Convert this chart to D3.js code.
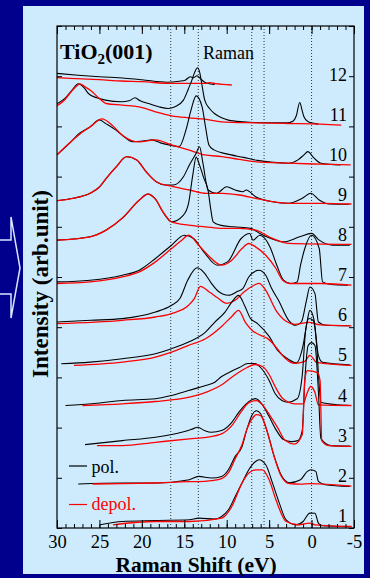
<!DOCTYPE html>
<html><head><meta charset="utf-8">
<script src="https://cdn.jsdelivr.net/npm/d3@7"></script>
<style>
body{margin:0;background:#00008c;} svg{display:block}
svg text{font-family:"Liberation Serif","Times New Roman",Times,"DejaVu Serif",serif;}
</style>
</head><body><svg id="c" width="370" height="578"></svg>
<script>
// ---------- data ----------
const xTickValues = [30,25,20,15,10,5,0,-5];
const xTickLabels = ["30","25","20","15","10","5","0","-5"];
const refLines = [16.6,13.35,7.05,5.6,0];
const spectrumLabels = ["1","2","3","4","5","6","7","8","9","10","11","12"];
const spacing = 4.01;   // vertical offset between spectra (arb. units)

const pol1 = [[24.9,0.2],[22.3,0.53],[18.4,0.63],[14.4,0.7],[13.3,0.87],[11.4,0.77],[10.6,1.03],[9.8,1.7],[9,3.03],[8.2,4.37],[7.4,5.7],[6.6,6.53],[6.2,6.7],[5.4,6.2],[4.6,4.37],[3.8,2.37],[3,0.7],[1.8,0.2],[1,0.53],[0.2,1.37],[-0.4,1.35],[-0.8,0.37],[-1.2,0.1],[-4.7,0.03]];
const depol1 = [[23.4,0.2],[18.4,0.53],[14.4,0.53],[10.6,0.87],[9.4,2.03],[8.2,4.37],[7.4,5.37],[6.6,5.7],[5.8,5.7],[5,4.7],[4.2,2.7],[3,0.53],[1.5,0.2],[0.2,0.37],[-0.4,0.2],[-4.7,0.03]];
const pol2 = [[27.5,0.27],[22.3,0.37],[18.4,0.37],[14.4,0.7],[13.3,1.03],[11.8,0.87],[10.6,1.03],[9.8,1.7],[9,3.03],[8.2,4.0],[7.6,5.8],[7,7.2],[6.5,7.6],[6,7.3],[5.3,5.7],[4.4,3.0],[3.6,1.2],[2.6,0.4],[1.3,0.7],[0.5,1.53],[0.1,1.7],[-0.5,1.53],[-0.8,0.53],[-1.6,0.2],[-4.5,0.03]];
const depol2 = [[25.8,0.27],[22.3,0.3],[18.4,0.37],[14.4,0.5],[13.3,0.5],[11.8,0.6],[10.6,0.8],[9.8,1.4],[9,2.8],[8.2,4.2],[7.6,5.8],[7,6.8],[6.5,7.2],[6,7.1],[5.3,5.7],[4.4,3.0],[3.6,1.1],[2.6,0.3],[1.3,0.25],[0.2,0.3],[-4.7,0.05]];
const pol3 = [[26.7,0.2],[22.3,0.6],[18.4,0.93],[15.3,1.43],[14.2,1.7],[13.4,1.93],[12.6,1.6],[11.8,1.43],[10.6,1.6],[9.4,2.43],[8.6,3.4],[7.8,4.2],[7,4.7],[6.6,4.8],[5.8,4.2],[5,3.0],[4.2,1.7],[3.3,0.7],[2.4,0.5],[1.6,0.6],[1.1,1.6],[0.8,6.6],[0.4,10.1],[0,10.4],[-0.4,10.1],[-0.8,5.6],[-1.1,0.8],[-2.3,0.1],[-4.5,0.05]];
const depol3 = [[25.3,0.1],[22.3,0.1],[18.4,0.43],[14.4,0.77],[12.4,0.93],[10.6,1.27],[9.4,2.1],[8.2,3.6],[7.4,4.4],[6.5,4.6],[5.7,4.1],[4.9,3.1],[4,1.9],[3.1,0.6],[2,0.25],[1.1,1.2],[0.8,6.6],[0.5,7.6],[-0.7,7.4],[-1,6.6],[-1.2,0.6],[-2,0.1],[-4.7,0.03]];
const pol4 = [[29,0.1],[25.6,0.3],[22.3,0.6],[18.4,0.77],[16.5,1.1],[14.5,1.6],[12.5,2.1],[11.4,2.43],[10.6,3.0],[9.5,3.5],[8.5,3.9],[7.5,4.3],[6.7,4.3],[5.9,3.8],[5,2.6],[4.3,1.3],[3.5,0.6],[2.8,0.43],[1.7,0.77],[1.1,3.1],[0.7,7.6],[0.3,8.8],[-0.2,8.6],[-0.6,6.1],[-0.9,2.1],[-1.1,0.43],[-3.1,0.17],[-4.5,0.1]];
const depol4 = [[27,0.1],[22.3,0.27],[18.4,0.5],[14.4,0.93],[12.4,1.43],[10.4,2.27],[9.6,2.8],[8.6,3.4],[7.6,3.9],[6.7,4.2],[5.8,4.0],[5,3.2],[4.3,2.0],[3.4,0.8],[2,0.27],[1,0.27],[0.5,1.4],[0.1,2.0],[-0.4,1.4],[-0.8,0.17],[-4.7,0.1]];
const pol5 = [[29.5,0.27],[26.1,0.43],[22.3,0.77],[18.4,1.27],[16.5,1.77],[14.5,2.43],[12.5,3.43],[11.4,4.43],[10.2,5.43],[9.4,6.43],[8.6,7.1],[7.9,6.1],[7.2,4.8],[6.4,4.3],[5,3.0],[4,1.6],[2.8,0.75],[1.8,0.35],[1,2.1],[0.5,4.6],[0.2,5.6],[-0.3,4.6],[-0.8,1.1],[-1.3,0.4],[-4.5,0.15]];
const depol5 = [[28,0.1],[22.3,0.43],[18.4,0.93],[16.5,1.43],[14.5,2.1],[12.5,2.77],[10.6,4.0],[9.4,5.0],[8.6,5.6],[7.8,4.4],[7,3.6],[6,3.1],[5.2,2.8],[4.2,1.93],[3.2,0.9],[2,0.3],[0.8,0.5],[0.2,1.1],[-0.6,0.4],[-4.7,0.1]];
const pol6 = [[30,0.43],[26,0.6],[22.3,0.77],[18.4,1.43],[16.5,2.1],[15.5,2.8],[14.6,4.6],[13.5,5.85],[12.7,5.4],[11.8,4.3],[11,3.5],[9.8,3.1],[8.7,3.5],[8.1,3.77],[7.4,4.93],[6.2,5.6],[5.4,5.1],[4.7,3.77],[3.9,2.6],[2.7,0.6],[1.9,0.1],[1.2,0.43],[0.6,2.6],[0.2,3.93],[-0.4,3.27],[-0.8,0.43],[-1.7,0.1],[-4.5,0.05]];
const depol6 = [[30,0.27],[22.3,0.6],[18.4,0.93],[16.5,1.27],[14.5,2.1],[13.8,2.8],[13.1,4.0],[12,3.4],[11,2.8],[10,2.3],[9,2.6],[8,3.4],[7,4.0],[6.2,4.3],[5.4,3.6],[4.2,1.6],[3,0.5],[2,0.2],[0.3,0.4],[-1,0.15],[-4.7,0.05]];
const pol7 = [[30,0.43],[26.1,0.6],[22.3,1.1],[20.3,1.6],[18.4,2.77],[16.5,4.1],[15,5.1],[13.9,4.77],[12.7,3.43],[11.1,2.1],[9.9,2.43],[8.3,4.77],[7.3,5.27],[6.9,4.6],[6.1,5.1],[4.9,3.93],[4.1,2.1],[3.3,0.6],[2.5,0.27],[1.7,0.43],[1.3,2.1],[0.8,3.77],[0,5.1],[-0.9,3.77],[-1.3,0.43],[-2.3,0.17],[-4.3,0.1]];
const depol7 = [[30,0.27],[26.1,0.43],[22.3,0.93],[20.3,1.43],[18.4,2.43],[16.5,3.77],[15.3,4.6],[14.5,5.1],[13.3,4.1],[12.2,3.1],[10.6,2.1],[9.4,2.6],[8.2,3.77],[7.4,4.27],[6.6,3.93],[5.4,3.1],[4.2,1.77],[3.4,0.6],[2.6,0.27],[-1.2,0.27],[-4.7,0.1]];
const pol8 = [[30,0.6],[26.1,0.93],[24.2,1.6],[22.3,2.8],[20.3,4.6],[19.3,5.2],[18.4,4.7],[17.5,3.4],[16.5,2.43],[15.1,3.1],[14.5,4.27],[14.0,7.1],[13.6,8.9],[13.2,8.1],[12.7,6.8],[12.2,5.6],[11.9,3.8],[11.6,2.43],[10.8,2.1],[9.2,1.93],[7.2,1.77],[6.1,1.27],[5.3,0.93],[3.3,0.43],[1.4,0.93],[0.0,1.27],[-0.9,0.6],[-2.5,0.1],[-4.5,0.1]];
const depol8 = [[30,0.6],[26.1,0.93],[24.2,1.6],[22.3,2.8],[20.3,4.6],[19.3,5.2],[18.4,4.7],[17.5,3.4],[16.5,2.43],[14.5,2.1],[12.5,1.93],[10.5,1.77],[8.5,1.77],[6.6,1.6],[4.6,0.77],[2.7,0.27],[-4.7,0.17]];
const pol9 = [[30,0.53],[28.1,0.77],[26.1,1.27],[25,1.9],[24.2,2.77],[23,3.93],[21.8,4.93],[20.6,4.6],[19.5,3.43],[18.3,2.43],[17.2,2.1],[16.3,2.1],[15.1,2.93],[14.4,4.1],[13.6,5.27],[13.2,5.93],[12.8,4.27],[12.2,1.6],[11.2,1.27],[10,1.93],[9,1.6],[8.1,1.43],[7.7,1.6],[6.6,0.93],[4.6,0.43],[2.7,0.27],[1.1,0.77],[0.1,1.27],[-0.9,0.6],[-2.1,0.2],[-4.4,0.17]];
const depol9 = [[30,0.53],[28.1,0.77],[26.1,1.27],[25,1.9],[24.2,2.77],[23,3.93],[21.8,4.93],[20.6,4.6],[19.5,3.43],[18.3,2.43],[16.3,1.93],[14.4,1.6],[12.4,1.27],[10.5,1.27],[8.5,1.1],[6.6,0.77],[4.6,0.43],[2.7,0.27],[-1.2,0.27],[-4.7,0.2]];
const pol10 = [[30,1.1],[28.6,2.2],[27.3,3.3],[26.1,3.9],[25,4.6],[24.2,4.2],[23.1,3.6],[22.3,3.07],[21.1,2.43],[19.8,2.5],[18.8,2.6],[17.8,2.3],[16.8,2.1],[15.6,1.93],[14.8,3.6],[14.2,5.6],[13.6,7.0],[12.9,5.9],[12.5,3.9],[12.1,2.1],[11.5,1.6],[10,1.2],[8,0.85],[6.4,0.55],[4.5,0.35],[2.7,0.27],[1.6,0.6],[0.9,1.1],[0.45,1.43],[-0.3,0.77],[-1.1,0.27],[-3.4,0.1]];
const depol10 = [[30,1.1],[28.6,2.23],[27.3,3.2],[26.1,3.9],[24.7,4.7],[23.5,4.07],[22.3,3.07],[20.3,2.4],[18.4,2.6],[16.5,2.1],[14.5,1.6],[12.6,1.1],[10.6,0.93],[8.5,0.65],[6.7,0.43],[2.8,0.27],[-1.1,0.17],[-4.6,0.1]];
const pol11 = [[30,2.2],[29,2.8],[28.2,3.6],[27.5,4.2],[26.8,3.8],[26.3,3.23],[25.3,2.8],[24.3,2.57],[22.4,2.4],[21.5,2.5],[20.8,2.8],[20.2,2.5],[19.2,2.23],[18,1.9],[16.9,1.73],[16.1,1.9],[15.1,2.57],[14.5,3.73],[14.1,4.57],[13.75,5.4],[13.45,5.8],[13.2,5.4],[12.9,4.0],[12.6,2.6],[12.0,1.7],[11.4,1.2],[10.6,0.8],[9.8,0.57],[8,0.4],[6.7,0.33],[4.5,0.3],[2.8,0.3],[2.2,0.45],[1.8,1.0],[1.4,2.33],[1.1,1.5],[0.9,0.9],[0.4,0.4],[-0.8,0.17]];
const depol11 = [[30,2.0],[29.2,2.5],[28.5,3.23],[27.9,3.8],[27.3,4.2],[26.7,3.9],[26.1,3.57],[25,2.73],[24.2,2.23],[22.3,2.07],[20.3,1.9],[18.4,1.4],[16.5,1.0],[14.5,0.8],[12.6,0.67],[10.6,0.4],[6.7,0.3],[2.8,0.23],[-1.1,0.17],[-3.5,0.07]];
const pol12 = [[30,1.23],[27.5,1.05],[25,0.9],[22,0.75],[20,0.6],[17,0.35],[15.6,0.45],[14.9,0.55],[14.3,0.9],[13.9,0.8],[13.5,1.0],[13.1,0.7],[12.6,0.35],[12,0.2],[11.4,0.12]];
const depol12 = [[30,0.8],[27,0.68],[25,0.6],[22.4,0.47],[20,0.4],[16.5,0.23],[12.6,0.23],[12,0.3],[11.3,0.2],[9.4,0.07]];

const polSeries = [pol1,pol2,pol3,pol4,pol5,pol6,pol7,pol8,pol9,pol10,pol11,pol12];
const depolSeries = [depol1,depol2,depol3,depol4,depol5,depol6,depol7,depol8,depol9,depol10,depol11,depol12];

// ---------- layout ----------
const svg = d3.select("#c");
const L = 57, R = 354, T = 26, B = 528;
const x = d3.scaleLinear().domain([30,-5]).range([L,R]);
const y = d3.scaleLinear().domain([-0.12,50.08]).range([B,T]);
const yTick = d3.scaleLinear().domain([0,10]).range([B,T]);

// light panel
svg.append("rect").attr("x",23).attr("y",6).attr("width",341).attr("height",568).attr("fill","#cdebfd");

// arrow outline on the left
svg.append("polyline")
  .attr("points","0,240 11,240 11,217 20,268 11,318 11,294 0,294")
  .attr("fill","none").attr("stroke","#d8e6ff").attr("stroke-width",1.5);

// reference dotted lines
svg.append("g").selectAll("line").data(refLines).join("line")
  .attr("x1",d=>x(d)).attr("x2",d=>x(d)).attr("y1",T).attr("y2",B)
  .attr("stroke","#333").attr("stroke-width",1).attr("stroke-dasharray","1,2");

// spectra
svg.append("defs").append("clipPath").attr("id","clip")
  .append("rect").attr("x",L).attr("y",T).attr("width",R-L).attr("height",B-T);
const plot = svg.append("g").attr("clip-path","url(#clip)");
const line = off => d3.line().x(d=>x(d[0])).y(d=>y(d[1]+off)).curve(d3.curveMonotoneX);
for (let i = 11; i >= 0; i--) {
  const off = i*spacing;
  plot.append("path").attr("d",line(off)(polSeries[i])).attr("fill","none")
    .attr("stroke","#000").attr("stroke-width",1.1);
  plot.append("path").attr("d",line(off)(depolSeries[i])).attr("fill","none")
    .attr("stroke","#ff0000").attr("stroke-width",1.3);
}

// spectrum numbers
svg.append("g").selectAll("text").data(spectrumLabels).join("text")
  .attr("x",347).attr("y",(d,i)=>y(i*spacing)-5).attr("text-anchor","end")
  .attr("font-size",18).attr("fill","#000").text(d=>d);

// axes
const minor = d3.range(-5,31,1);
const gB = svg.append("g").attr("transform",`translate(0,${B})`);
gB.call(d3.axisBottom(x).tickValues(minor).tickSize(-4).tickFormat(""));
const gB2 = svg.append("g").attr("transform",`translate(0,${B})`);
gB2.call(d3.axisBottom(x).tickValues(xTickValues).tickSize(-8).tickPadding(6.5)
  .tickFormat((d,i)=>xTickLabels[i]));
const gT = svg.append("g").attr("transform",`translate(0,${T})`);
gT.call(d3.axisTop(x).tickValues(minor).tickSize(-4).tickFormat(""));
const gT2 = svg.append("g").attr("transform",`translate(0,${T})`);
gT2.call(d3.axisTop(x).tickValues(xTickValues).tickSize(-8).tickFormat(""));
const gL = svg.append("g").attr("transform",`translate(${L},0)`);
gL.call(d3.axisLeft(yTick).ticks(10).tickSize(-5).tickFormat(""));
const gR = svg.append("g").attr("transform",`translate(${R},0)`);
gR.call(d3.axisRight(yTick).ticks(10).tickSize(-5).tickFormat(""));
svg.selectAll(".domain").remove();
svg.selectAll(".tick line").attr("stroke","#000");
gB2.selectAll("text").attr("font-size",18.5).attr("fill","#000");

// frame
svg.append("rect").attr("x",L).attr("y",T).attr("width",R-L).attr("height",B-T)
  .attr("fill","none").attr("stroke","#000").attr("stroke-width",1.2);

// title
const title = svg.append("text").attr("x",60).attr("y",59)
  .attr("font-size",22).attr("font-weight","bold").attr("fill","#000");
title.append("tspan").text("TiO");
title.append("tspan").attr("font-size",15).attr("dy",5).text("2");
title.append("tspan").attr("dy",-5).text("(001)");
svg.append("text").attr("x",203).attr("y",59)
  .attr("font-size",18).attr("fill","#000").text("Raman");

// legend
svg.append("line").attr("x1",69).attr("x2",87).attr("y1",466).attr("y2",466).attr("stroke","#000").attr("stroke-width",1.2);
svg.append("text").attr("x",91.5).attr("y",473).attr("font-size",18).attr("fill","#000").text("pol.");
svg.append("line").attr("x1",69).attr("x2",87).attr("y1",504.5).attr("y2",504.5).attr("stroke","#ff0000").attr("stroke-width",1.2);
svg.append("text").attr("x",91.5).attr("y",509.5).attr("font-size",18).attr("fill","#ff0000").text("depol.");

// axis titles
svg.append("text").attr("x",196).attr("y",572).attr("text-anchor","middle")
  .attr("font-size",21.5).attr("font-weight","bold").attr("fill","#000")
  .text("Raman Shift (eV)");
svg.append("text").attr("transform","translate(48,284) rotate(-90)").attr("text-anchor","middle")
  .attr("font-size",23).attr("font-weight","bold").attr("fill","#000")
  .text("Intensity (arb.unit)");
</script></body></html>
